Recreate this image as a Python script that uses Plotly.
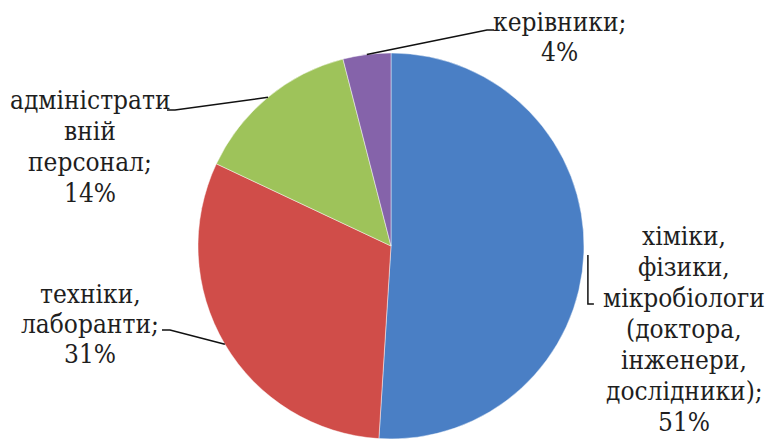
import numpy as np
import plotly.graph_objects as go

# Staff structure (percent shares)
categories = [
    "хіміки, фізики, мікробіологи (доктора, інженери, дослідники)",
    "техніки, лаборанти",
    "адміністративний персонал",
    "керівники",
]
values = [51, 31, 14, 4]
# How each category name is wrapped in its label
label_lines = [
    ["хіміки,", "фізики,", "мікробіологи", "(доктора,", "інженери,", "дослідники);"],
    ["техніки,", "лаборанти;"],
    ["адміністрати", "вній", "персонал;"],
    ["керівники;"],
]
colors = ["#4a7fc5", "#d04d49", "#9ec35a", "#8563aa"]

W, H = 766, 439
CX, CY, R = 391, 246, 193  # pie centre and radius in pixels
FONT = "DejaVu Serif Condensed, DejaVu Serif"


def paper(x, y):
    return x / W, 1 - y / H


fig = go.Figure(
    go.Pie(
        labels=categories,
        values=values,
        sort=False,
        direction="clockwise",
        rotation=0,
        textinfo="none",
        hoverinfo="label+percent",
        marker=dict(colors=colors, line=dict(color="rgba(255,255,255,0.45)", width=1)),
        domain=dict(x=[(CX - R) / W, (CX + R) / W], y=[1 - (CY + R) / H, 1 - (CY - R) / H]),
        showlegend=False,
    )
)

# slice mid-angles (clockwise from 12 o'clock) -> points on the rim
vals = np.array(values, dtype=float)
starts = np.cumsum(vals) - vals
mids = np.radians((starts + vals / 2) / vals.sum() * 360)
anchors = [(CX + R * np.sin(a), CY - R * np.cos(a)) for a in mids]

# label blocks: centre x, first line y, line step
blocks = [(684, 236, 31), (90, 294, 30), (90, 100, 31), (559, 22, 30)]

annotations = []
for lines, v, (bx, by, step) in zip(label_lines, values, blocks):
    for i, t in enumerate(lines + [f"{v}%"]):
        x, y = paper(bx, by + i * step)
        annotations.append(dict(
            x=x, y=y, xref="paper", yref="paper", text=t, showarrow=False,
            xanchor="center", yanchor="middle",
            font=dict(family=FONT, size=26, color="#1e1e1e"),
        ))

# leader lines from the slice rim to the labels
ax0, ay0 = anchors[0]
leaders = [
    [(ax0 + 4, ay0 + 3), (ax0 + 4, 304), (ax0 + 10, 304)],
    [anchors[1], (170, 330), (162, 330)],
    [anchors[2], (175, 110), (167, 110)],
    [anchors[3], (487, 30), (494, 30)],
]
shapes = []
for pts in leaders:
    p = [paper(*q) for q in pts]
    path = "M " + " L ".join(f"{x:.5f},{y:.5f}" for x, y in p)
    shapes.append(dict(type="path", path=path, xref="paper", yref="paper",
                       line=dict(color="#111111", width=1.5)))

fig.update_layout(
    width=W, height=H,
    margin=dict(l=0, r=0, t=0, b=0),
    paper_bgcolor="white", plot_bgcolor="white",
    annotations=annotations, shapes=shapes,
)

fig.write_html("out.html")
